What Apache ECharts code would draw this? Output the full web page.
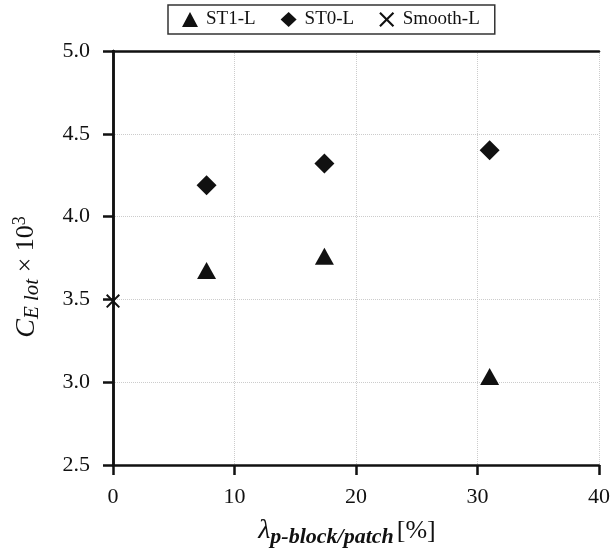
<!DOCTYPE html>
<html><head><meta charset="utf-8">
<script src="https://cdn.jsdelivr.net/npm/echarts@6/dist/echarts.min.js"></script>
<style>html,body{margin:0;padding:0;background:#fff}#c{width:610px;height:554px}</style>
</head><body><div id="c"></div>
<script>
const st1X = [7.7, 17.4, 31.0];
const st1Y = [3.675, 3.76, 3.035];
const st0X = [7.7, 17.4, 31.0];
const st0Y = [4.19, 4.32, 4.40];
const smoothX = [0];
const smoothY = [3.49];
const xTicks = [0, 10, 20, 30, 40];
const yTicks = [2.5, 3.0, 3.5, 4.0, 4.5, 5.0];

const crossPath = 'path://M0,1 L1,0 L5,4 L9,0 L10,1 L6,5 L10,9 L9,10 L5,6 L1,10 L0,9 L4,5 Z';
const font = '"Liberation Serif","DejaVu Serif",serif';
const pair = (xs, ys) => xs.map((x, i) => [x, ys[i]]);
const frameAxis = {
  axisLine: {show: true, lineStyle: {color: '#111', width: 2.5}},
  axisTick: {show: false}, axisLabel: {show: false}, splitLine: {show: false}
};

const chart = echarts.init(document.getElementById('c'));
chart.setOption({
  animation: false,
  textStyle: {fontFamily: font},
  legend: {
    top: 5, left: 168,
    data: [{name:'ST1-L', icon:'triangle'}, {name:'ST0-L', icon:'diamond'}, {name:'Smooth-L', icon: crossPath}],
    borderColor: '#333', borderWidth: 1.5, padding: [5, 15, 5, 14],
    itemWidth: 16, itemHeight: 15, itemGap: 25,
    textStyle: {fontFamily: font, fontSize: 19, color: '#111', padding: [0, 0, 0, 3]}
  },
  grid: {left: 113, right: 11, top: 51, bottom: 89, outerBoundsMode: 'none', containLabel: false},
  xAxis: [{
    type: 'value', min: 0, max: 40, interval: 10,
    axisLine: {show: true, lineStyle: {color: '#111', width: 2.5}},
    axisTick: {show: true, inside: false, length: 10, lineStyle: {color: '#111', width: 2.5}},
    axisLabel: {fontFamily: font, fontSize: 22, color: '#111', margin: 21,
      formatter: v => xTicks.includes(v) ? String(v) : ''},
    splitLine: {show: true, lineStyle: {color: '#ccc', type: 'dotted', width: 1}},
    name: '{l|λ}{s|p-block/patch} {n|[%]}',
    nameLocation: 'middle', nameGap: 49,
    nameTextStyle: {rich: {
      l: {fontFamily: font, fontStyle: 'italic', fontSize: 28, color: '#111'},
      s: {fontFamily: font, fontStyle: 'italic', fontWeight: 'bold', fontSize: 22, color: '#111', padding: [12, 0, 0, 0]},
      n: {fontFamily: font, fontSize: 26, color: '#111', padding: [0, 18, 0, 0]}
    }}
  }, Object.assign({type: 'value', min: 0, max: 40, position: 'top'}, frameAxis)],
  yAxis: [{
    type: 'value', min: 2.5, max: 5.0, interval: 0.5,
    axisLine: {show: true, lineStyle: {color: '#111', width: 2.5}},
    axisTick: {show: true, inside: false, length: 10, lineStyle: {color: '#111', width: 2.5}},
    axisLabel: {fontFamily: font, fontSize: 22, color: '#111', margin: 23,
      formatter: v => yTicks.some(t => Math.abs(t - v) < 1e-9) ? v.toFixed(1) : ''},
    splitLine: {show: true, lineStyle: {color: '#ccc', type: 'dotted', width: 1}},
    name: '{c|C}{s|E lot}{n| × 10}{p|3}',
    nameLocation: 'middle', nameGap: 70, nameRotate: 90,
    nameTextStyle: {rich: {
      c: {fontFamily: font, fontStyle: 'italic', fontSize: 28, color: '#111'},
      s: {fontFamily: font, fontStyle: 'italic', fontSize: 21, color: '#111', padding: [12, 0, 0, 0]},
      n: {fontFamily: font, fontSize: 26, color: '#111'},
      p: {fontFamily: font, fontSize: 18, color: '#111', padding: [0, 38, 12, 0]}
    }}
  }, Object.assign({type: 'value', min: 2.5, max: 5.0, position: 'right'}, frameAxis)],
  series: [
    {name: 'ST1-L', type: 'scatter', symbol: 'triangle', symbolSize: [19, 17], data: pair(st1X, st1Y), itemStyle: {color: '#111', opacity: 1}, clip: false},
    {name: 'ST0-L', type: 'scatter', symbol: 'diamond', symbolSize: 20, data: pair(st0X, st0Y), itemStyle: {color: '#111', opacity: 1}, clip: false},
    {name: 'Smooth-L', type: 'scatter', symbol: crossPath, symbolSize: 14, data: pair(smoothX, smoothY), itemStyle: {color: '#111', opacity: 1}, clip: false, z: 5}
  ]
});
</script></body></html>
